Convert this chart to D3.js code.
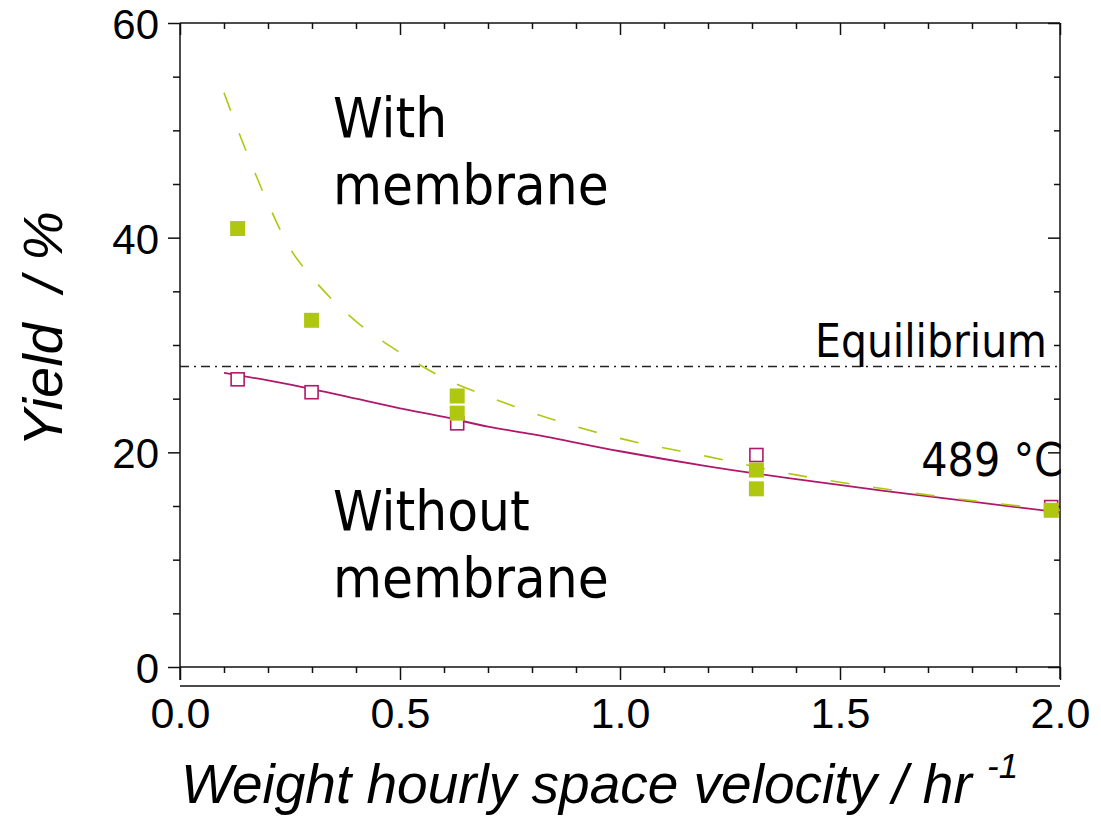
<!DOCTYPE html>
<html><head><meta charset="utf-8">
<script src="https://cdn.jsdelivr.net/npm/d3@7"></script>
<style>body{margin:0;background:#fff} svg{display:block}</style>
</head><body><svg id="c" width="1101" height="816"></svg>
<script>
// ---- data ----
const xMajorTicks = [0, 0.5, 1.0, 1.5, 2.0];
const xTickLabels = ["0.0", "0.5", "1.0", "1.5", "2.0"];
const xMinorTicks = [0.1,0.2,0.3,0.4,0.6,0.7,0.8,0.9,1.1,1.2,1.3,1.4,1.6,1.7,1.8,1.9];
const yMajorTicks = [0, 20, 40, 60];
const yTickLabels = ["0", "20", "40", "60"];
const yMinorTicks = [5,10,15,25,30,35,45,50,55];

const withoutX = [0.131, 0.299, 0.63, 1.31, 1.98];
const withoutY = [26.8, 25.6, 22.7, 19.75, 14.9];
const withX = [0.131, 0.299, 0.63, 0.63, 1.31, 1.31, 1.98];
const withY = [40.85, 32.3, 25.25, 23.65, 18.35, 16.6, 14.6];

const fitWithoutX = [0.10,0.2,0.3,0.4,0.5,0.6,0.7,0.8,1.0,1.2,1.4,1.6,1.8,2.0];
const fitWithoutY = [27.4,26.7,25.9,25.0,24.1,23.3,22.4,21.7,20.1,18.7,17.5,16.4,15.4,14.4];
const fitWithX = [0.1,0.15,0.2,0.25,0.3,0.4,0.5,0.6,0.7,0.8,0.9,1.0,1.2,1.4,1.6,1.8,2.0];
const fitWithY = [53.5,48.1,43.2,39.0,36.3,32.2,29.3,26.9,25.2,23.7,22.4,21.3,19.6,17.9,16.6,15.5,14.6];

const equilibrium = 28;

// ---- layout ----
const svg = d3.select("#c");
const x = d3.scaleLinear([0, 2], [180, 1060]);
const y = d3.scaleLinear([0, 60], [667, 23]);
const AX = "#111";
const GREEN = "#afc80f";
const MAG = "#b0186b";
const SANS = "'Liberation Sans', Arial, sans-serif";
const TAHOMA = "'DejaVu Sans Condensed', 'DejaVu Sans', sans-serif";

function styleAxis(g){
  g.select(".domain").remove();
  g.selectAll(".tick line").attr("stroke", AX).attr("stroke-width", 1.5);
  g.selectAll("text").attr("fill", "#000").attr("font-family", SANS).attr("font-size", 42);
}

// left axis
svg.append("g").attr("transform", `translate(${x(0)},0)`)
  .call(d3.axisLeft(y).tickValues(yMajorTicks).tickSize(12).tickPadding(9)
    .tickFormat((d,i)=>yTickLabels[i])).call(styleAxis)
  .call(g=>g.selectAll("text").attr("dy", "0.37em"));
svg.append("g").attr("transform", `translate(${x(0)},0)`)
  .call(d3.axisLeft(y).tickValues(yMinorTicks).tickSize(7).tickFormat("")).call(styleAxis);
// right axis (inward)
svg.append("g").attr("transform", `translate(${x(2)},0)`)
  .call(d3.axisLeft(y).tickValues(yMajorTicks).tickSize(12).tickFormat("")).call(styleAxis);
svg.append("g").attr("transform", `translate(${x(2)},0)`)
  .call(d3.axisLeft(y).tickValues(yMinorTicks).tickSize(6).tickFormat("")).call(styleAxis);
// top axis (inward)
svg.append("g").attr("transform", `translate(0,${y(60)})`)
  .call(d3.axisBottom(x).tickValues(xMajorTicks).tickSize(12).tickFormat("")).call(styleAxis);
svg.append("g").attr("transform", `translate(0,${y(60)})`)
  .call(d3.axisBottom(x).tickValues(xMinorTicks).tickSize(6).tickFormat("")).call(styleAxis);
// bottom axis (outward)
svg.append("g").attr("transform", `translate(0,${y(0)})`)
  .call(d3.axisBottom(x).tickValues(xMajorTicks).tickSize(13).tickPadding(17)
    .tickFormat((d,i)=>xTickLabels[i])).call(styleAxis)
  .call(g=>g.selectAll("text").attr("font-size", 43));
svg.append("g").attr("transform", `translate(0,${y(0)})`)
  .call(d3.axisBottom(x).tickValues(xMinorTicks).tickSize(6).tickFormat("")).call(styleAxis);

// frame lines
const frame = svg.append("g").attr("stroke", AX).attr("stroke-width", 1.5).attr("fill", "none");
frame.append("line").attr("x1", x(0)).attr("x2", x(0)).attr("y1", y(60)).attr("y2", y(0) + 13);
frame.append("line").attr("x1", x(0)).attr("x2", x(2)).attr("y1", y(60)).attr("y2", y(60));
frame.append("line").attr("x1", x(0)).attr("x2", x(2)).attr("y1", y(0)).attr("y2", y(0));
frame.append("line").attr("x1", x(2)).attr("x2", x(2)).attr("y1", y(60)).attr("y2", y(0) + 12);
frame.append("line").attr("x1", x(0)).attr("x2", x(2)).attr("y1", y(0) + 19).attr("y2", y(0) + 19);

// equilibrium line
svg.append("line").attr("x1", x(0)).attr("x2", x(2))
  .attr("y1", y(equilibrium)).attr("y2", y(equilibrium))
  .attr("stroke", "#222").attr("stroke-width", 1.4).attr("stroke-dasharray", "9,5,2,5");

// fit curves
const line = d3.line().x(d=>x(d[0])).y(d=>y(d[1])).curve(d3.curveMonotoneX);
svg.append("path").attr("d", line(fitWithoutX.map((v,i)=>[v, fitWithoutY[i]])))
  .attr("fill", "none").attr("stroke", MAG).attr("stroke-width", 1.8);
svg.append("path").attr("d", line(fitWithX.map((v,i)=>[v, fitWithY[i]])))
  .attr("fill", "none").attr("stroke", GREEN).attr("stroke-width", 1.6).attr("stroke-dasharray", "19,24");

// markers
svg.append("g").selectAll("rect").data(withoutX.map((v,i)=>[v, withoutY[i]])).join("rect")
  .attr("x", d=>x(d[0]) - 6.5).attr("y", d=>y(d[1]) - 6.5).attr("width", 13).attr("height", 13)
  .attr("fill", "#fff").attr("stroke", MAG).attr("stroke-width", 1.6);
svg.append("g").selectAll("rect").data(withX.map((v,i)=>[v, withY[i]])).join("rect")
  .attr("x", d=>x(d[0]) - 7.5).attr("y", d=>y(d[1]) - 7.5).attr("width", 15).attr("height", 15)
  .attr("fill", GREEN);

// annotations
function label(txt, px, py, size, anchor){
  svg.append("text").attr("x", px).attr("y", py).attr("font-family", TAHOMA)
    .attr("font-size", size).attr("text-anchor", anchor || "start").attr("fill", "#000").text(txt);
}
label("With", 333, 137, 56);
label("membrane", 333, 204, 56);
label("Without", 333, 530, 56);
label("membrane", 333, 597, 56);
label("Equilibrium", 1047, 357, 45.5, "end");
label("489 °C", 1063, 476, 46, "end");

// axis titles
const xt = svg.append("text").attr("x", 181).attr("y", 803).attr("font-family", SANS)
  .attr("font-style", "italic").attr("font-size", 55).attr("fill", "#000")
  .style("white-space", "pre");
xt.append("tspan").text("Weight hourly space velocity / hr ");
xt.append("tspan").attr("font-size", 35).attr("dy", -25).text("-1");

svg.append("text").attr("transform", "translate(62,329) rotate(-90)")
  .attr("text-anchor", "middle").attr("font-family", SANS).attr("font-style", "italic")
  .attr("font-size", 56).attr("fill", "#000").style("white-space", "pre").text("Yield  / %");
</script></body></html>
